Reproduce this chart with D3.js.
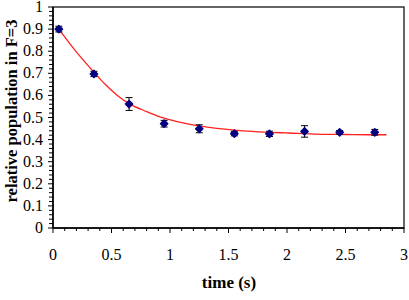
<!DOCTYPE html>
<html>
<head>
<meta charset="utf-8">
<script src="https://cdn.jsdelivr.net/npm/d3@7"></script>
<style>
  body { margin: 0; background: #fff; }
  text { font-family: "Liberation Serif", "Times New Roman", serif; }
</style>
</head>
<body>
<script>
// measured points (time, population, error)
var timeVals = [0.05, 0.35, 0.65, 0.95, 1.25, 1.55, 1.85, 2.15, 2.45, 2.75];
var popVals = [0.900, 0.697, 0.561, 0.472, 0.449, 0.427, 0.426, 0.437, 0.433, 0.433];
var errVals = [0.013, 0.012, 0.029, 0.015, 0.018, 0.010, 0.012, 0.026, 0.008, 0.013];

// fitted curve
var fitX = [0.05, 0.15, 0.25, 0.35, 0.45, 0.55, 0.65, 0.8, 0.95, 1.1, 1.25, 1.4, 1.55, 1.7, 1.85, 2.0, 2.15, 2.3, 2.5, 2.7, 2.85];
var fitY = [0.900, 0.830, 0.765, 0.705, 0.648, 0.600, 0.563, 0.527, 0.497, 0.477, 0.462, 0.451, 0.443, 0.437, 0.433, 0.430, 0.427, 0.424, 0.423, 0.422, 0.422];

var xTicks = [0, 0.5, 1, 1.5, 2, 2.5, 3];
var yTicks = [0, 0.1, 0.2, 0.3, 0.4, 0.5, 0.6, 0.7, 0.8, 0.9, 1];

var width = 409, height = 300;
var plotL = 53, plotR = 404, plotT = 7, plotB = 228;

var svg = d3.select('body').append('svg')
  .attr('width', width)
  .attr('height', height);

var x = d3.scaleLinear().domain([0, 3]).range([plotL, plotR]);
var y = d3.scaleLinear().domain([0, 1]).range([plotB, plotT]);

// plot frame
svg.append('rect')
  .attr('x', plotL).attr('y', plotT)
  .attr('width', plotR - plotL).attr('height', plotB - plotT)
  .style('fill', 'none')
  .style('stroke', '#333')
  .style('stroke-width', 1.5);

// minor ticks
var xMinor = d3.range(0, 31).map(function(i) { return i / 10; });
var yMinor = d3.range(0, 51).map(function(i) { return i / 50; });

svg.selectAll('.xminor').data(xMinor).enter().append('line')
  .attr('x1', function(d) { return x(d); })
  .attr('x2', function(d) { return x(d); })
  .attr('y1', plotB)
  .attr('y2', function(d, i) { return i % 5 == 0 ? plotB + 5 : plotB + 3; })
  .style('stroke', '#000').style('stroke-width', 1);

svg.selectAll('.yminor').data(yMinor).enter().append('line')
  .attr('y1', function(d) { return y(d); })
  .attr('y2', function(d) { return y(d); })
  .attr('x1', plotL)
  .attr('x2', function(d, i) { return i % 5 == 0 ? plotL - 5 : plotL - 4; })
  .style('stroke', '#000').style('stroke-width', 1);

// axes lines
svg.append('line').attr('x1', plotL).attr('x2', plotL).attr('y1', plotT).attr('y2', plotB)
  .style('stroke', '#000').style('stroke-width', 1.5);
svg.append('line').attr('x1', plotL).attr('x2', plotR).attr('y1', plotB).attr('y2', plotB)
  .style('stroke', '#000').style('stroke-width', 1.5);

// tick labels
svg.selectAll('.xlab').data(xTicks).enter().append('text')
  .attr('x', function(d) { return x(d); })
  .attr('y', 260)
  .attr('text-anchor', 'middle')
  .style('font-size', '16px')
  .text(function(d) { return d; });

svg.selectAll('.ylab').data(yTicks).enter().append('text')
  .attr('x', 43)
  .attr('y', function(d) { return y(d) + 5; })
  .attr('text-anchor', 'end')
  .style('font-size', '16px')
  .text(function(d) { return d; });

// axis titles
svg.append('text')
  .attr('x', 229).attr('y', 288)
  .attr('text-anchor', 'middle')
  .style('font-size', '17px').style('font-weight', 'bold')
  .text('time (s)');

svg.append('text')
  .attr('transform', 'translate(17,111) rotate(-90)')
  .attr('text-anchor', 'middle')
  .style('font-size', '16.5px').style('font-weight', 'bold')
  .text('relative population in F=3');

// fit curve
var line = d3.line()
  .x(function(d) { return x(d[0]); })
  .y(function(d) { return y(d[1]); })
  .curve(d3.curveMonotoneX);

svg.append('path')
  .datum(fitX.map(function(d, i) { return [d, fitY[i]]; }))
  .attr('d', line)
  .style('fill', 'none')
  .style('stroke', '#ff2020')
  .style('stroke-width', 1.3);

// error bars + markers
var pts = timeVals.map(function(d, i) { return {t: d, p: popVals[i], e: errVals[i]}; });

var g = svg.selectAll('.pt').data(pts).enter().append('g');

g.append('line')
  .attr('x1', function(d) { return x(d.t); })
  .attr('x2', function(d) { return x(d.t); })
  .attr('y1', function(d) { return y(d.p - d.e); })
  .attr('y2', function(d) { return y(d.p + d.e); })
  .style('stroke', '#000').style('stroke-width', 1);

[-1, 1].forEach(function(s) {
  g.append('line')
    .attr('x1', function(d) { return x(d.t) - 3.5; })
    .attr('x2', function(d) { return x(d.t) + 3.5; })
    .attr('y1', function(d) { return y(d.p + s * d.e); })
    .attr('y2', function(d) { return y(d.p + s * d.e); })
    .style('stroke', '#000').style('stroke-width', 1);
});

// diamond marker = square turned 45 degrees
g.append('path')
  .attr('d', d3.symbol().type(d3.symbolSquare).size(26))
  .attr('transform', function(d) { return 'translate(' + x(d.t) + ',' + y(d.p) + ') rotate(45)'; })
  .style('fill', '#000080')
  .style('stroke', '#000080')
  .style('stroke-width', 1.5)
  .style('stroke-linejoin', 'round');
</script>
</body>
</html>
